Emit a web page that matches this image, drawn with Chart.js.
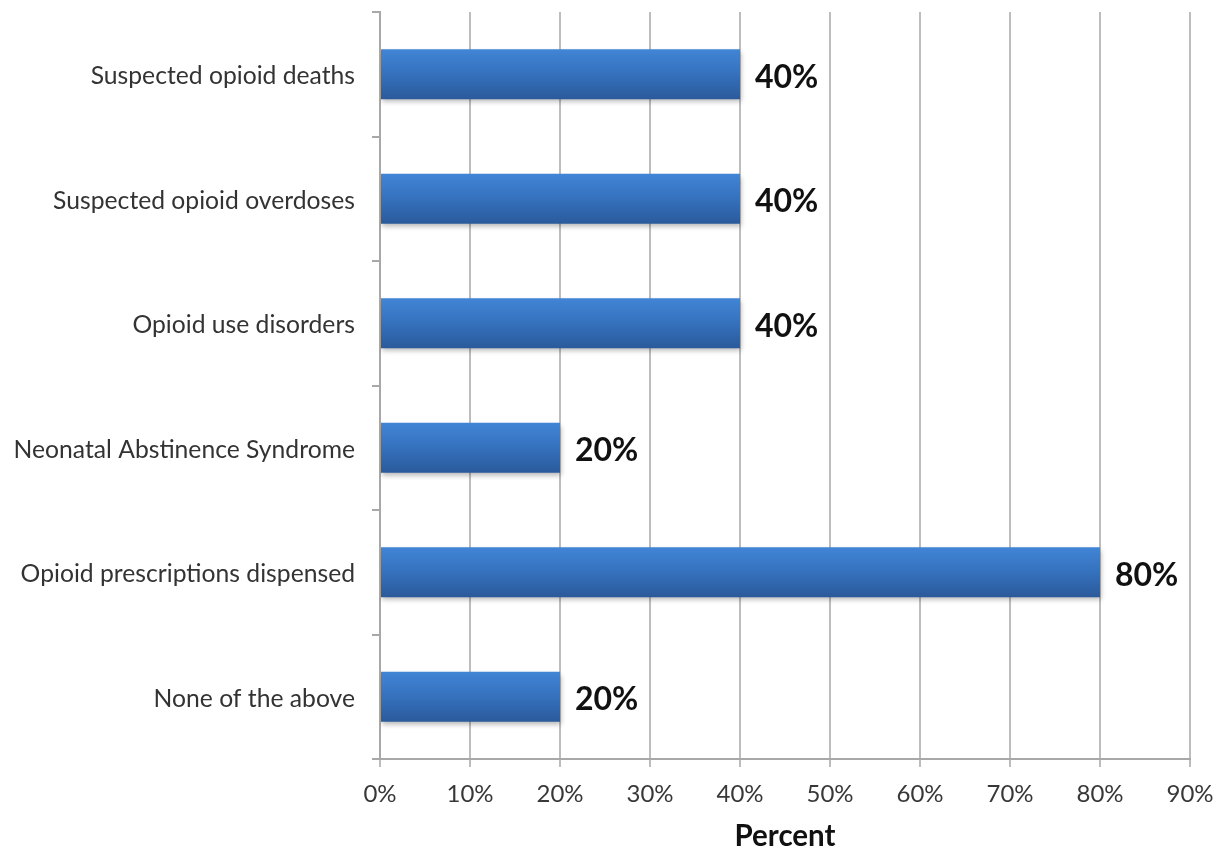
<!DOCTYPE html>
<html>
<head>
<meta charset="utf-8">
<script src="https://cdn.jsdelivr.net/npm/chart.js@4"></script>
<style>
html,body{margin:0;padding:0;background:#fff;}
#wrap{width:1222px;height:850px;position:relative;}
</style>
</head>
<body>
<div id="wrap"><canvas id="c" width="1222" height="850"></canvas></div>
<script>
const categories = [
  "Suspected opioid deaths",
  "Suspected opioid overdoses",
  "Opioid use disorders",
  "Neonatal Abstinence Syndrome",
  "Opioid prescriptions dispensed",
  "None of the above"
];
const values = [40, 40, 40, 20, 80, 20];
const axisMin = 0;
const axisMax = 90;
const axisStep = 10;
const axisTitle = "Percent";

const FONT = "Lato, 'Open Sans', sans-serif";

const dataLabels = {
  id: 'dataLabels',
  afterDatasetsDraw(chart) {
    const ctx = chart.ctx;
    const meta = chart.getDatasetMeta(0);
    ctx.save();
    ctx.font = "bold 32px " + FONT;
    ctx.fillStyle = "#111";
    ctx.textAlign = "left";
    ctx.textBaseline = "middle";
    meta.data.forEach((bar, i) => {
      ctx.fillText(values[i] + "%", bar.x + 15, bar.y + 3);
    });
    ctx.restore();
  }
};

const barShadow = {
  id: 'barShadow',
  beforeDatasetsDraw(chart) {
    const ctx = chart.ctx;
    ctx.save();
    ctx.shadowColor = "rgba(0,0,0,0.28)";
    ctx.shadowBlur = 5;
    ctx.shadowOffsetX = 1;
    ctx.shadowOffsetY = 3;
  },
  afterDatasetsDraw(chart) {
    chart.ctx.restore();
  }
};

function barGradient(context) {
  const chart = context.chart;
  const ys = chart.scales && chart.scales.y;
  if (!ys || !chart.chartArea || context.dataIndex === undefined) return "#3670ba";
  const cy = ys.getPixelForValue(context.dataIndex);
  const h = (ys.height / categories.length) * 0.4;
  if (!isFinite(cy) || !isFinite(h)) return "#3670ba";
  const g = chart.ctx.createLinearGradient(0, cy - h / 2, 0, cy + h / 2);
  g.addColorStop(0, "#4185d6");
  g.addColorStop(0.5, "#3571bd");
  g.addColorStop(1, "#2a5a9b");
  return g;
}

new Chart(document.getElementById('c'), {
  type: 'bar',
  data: {
    labels: categories,
    datasets: [{
      data: values,
      backgroundColor: barGradient,
      borderWidth: 0,
      barPercentage: 0.4,
      categoryPercentage: 1.0
    }]
  },
  options: {
    indexAxis: 'y',
    responsive: false,
    animation: false,
    devicePixelRatio: 1,
    layout: { padding: { left: 0, right: 32, top: 12, bottom: 0 } },
    plugins: {
      legend: { display: false },
      tooltip: { enabled: false }
    },
    scales: {
      x: {
        min: axisMin,
        max: axisMax,
        ticks: {
          stepSize: axisStep,
          callback: v => v + "%",
          color: "#383838",
          font: { family: FONT, size: 24 },
          padding: 13,
          maxRotation: 0
        },
        grid: {
          color: "#bdbdbd",
          lineWidth: 2,
          tickLength: 8,
          drawTicks: true
        },
        border: { display: true, color: "#a8a8a8", width: 2 },
        title: {
          display: true,
          text: axisTitle,
          color: "#111",
          font: { family: FONT, size: 29.5, weight: 'bold' },
          padding: { top: 0, bottom: -4 }
        },
        afterFit(scale) {
          scale.height = 91;
          scale.paddingLeft = 0;
          scale.paddingRight = 0;
        }
      },
      y: {
        ticks: {
          color: "#333",
          font: { family: FONT, size: 24.7 },
          padding: 17,
          labelOffset: 2
        },
        grid: {
          offset: true,
          drawOnChartArea: false,
          drawTicks: true,
          tickLength: 8,
          color: "#a8a8a8",
          lineWidth: 2
        },
        border: { display: true, color: "#a8a8a8", width: 2 },
        afterFit(scale) {
          scale.width = 380;
          scale.paddingTop = 0;
          scale.paddingBottom = 0;
        }
      }
    }
  },
  plugins: [barShadow, dataLabels]
});
</script>
</body>
</html>
